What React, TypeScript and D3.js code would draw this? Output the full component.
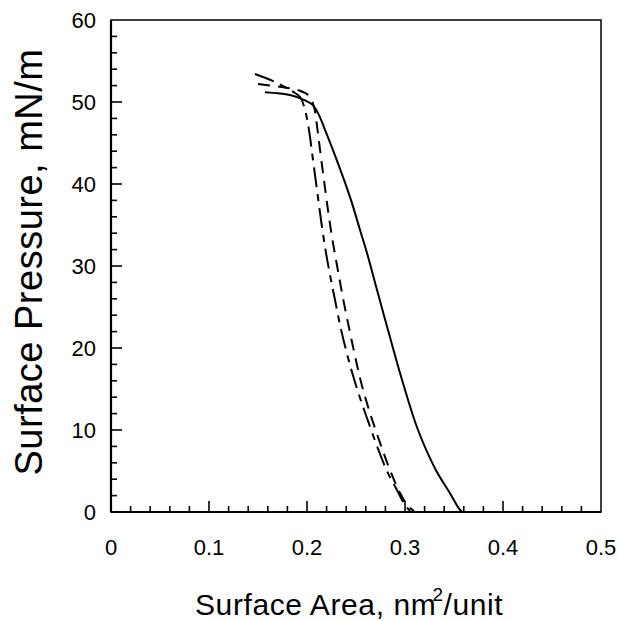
import React from "react";
import * as d3 from "d3";

const xTickLabels = ["0", "0.1", "0.2", "0.3", "0.4", "0.5"];
const yTickLabels = ["0", "10", "20", "30", "40", "50", "60"];

const solidX = [0.1571, 0.1827, 0.198, 0.2061, 0.2122, 0.2184, 0.2276, 0.2378, 0.245, 0.2541, 0.2612, 0.2714, 0.2847, 0.298, 0.3133, 0.3316, 0.3459, 0.3546, 0.3582];
const solidY = [51.2, 50.85, 50.2, 49.6, 48.4, 46.6, 43.8, 40.5, 38.0, 34.4, 31.6, 27.1, 21.3, 15.7, 10.0, 5.1, 2.3, 0.5, 0.0];

const dashDotX = [0.1469, 0.1673, 0.1847, 0.1929, 0.198, 0.202, 0.2061, 0.2102, 0.2143, 0.2189, 0.2235, 0.2286, 0.2337, 0.2398, 0.2459, 0.2531, 0.2612, 0.2714, 0.2816, 0.2918, 0.3, 0.3051];
const dashDotY = [53.41, 52.44, 51.34, 50.61, 49.02, 46.59, 42.93, 39.27, 35.61, 31.95, 28.9, 25.85, 22.8, 19.76, 17.07, 14.27, 11.46, 8.05, 5.0, 2.68, 0.85, 0.12];

const dashX = [0.15, 0.1724, 0.1929, 0.202, 0.2071, 0.2102, 0.2133, 0.2173, 0.2214, 0.226, 0.2311, 0.2367, 0.2429, 0.249, 0.2551, 0.2633, 0.2735, 0.2847, 0.2949, 0.3031, 0.3092];
const dashY = [52.2, 51.85, 51.37, 50.76, 49.41, 47.1, 44.15, 40.49, 36.83, 33.17, 29.76, 26.1, 22.44, 19.02, 15.85, 12.44, 8.78, 5.12, 2.32, 0.73, 0.12];

const W = 619;
const H = 621;
const left = 111;
const right = 601;
const top = 20;
const bottom = 512;
const font = "'Liberation Sans', Arial, Helvetica, sans-serif";

export default function App() {
  const x = d3.scaleLinear().domain([0, 0.5]).range([left, right]);
  const y = d3.scaleLinear().domain([0, 60]).range([bottom, top]);

  const line = d3
    .line<[number, number]>()
    .x((d) => x(d[0]))
    .y((d) => y(d[1]))
    .curve(d3.curveCatmullRom.alpha(0.5));

  const zip = (xs: number[], ys: number[]) => xs.map((v, i) => [v, ys[i]] as [number, number]);

  const xMinor = d3.range(0, 0.5001, 0.02).filter((v) => v > 0.001 && v < 0.499);
  const yMinor = d3.range(0, 60.001, 2).filter((v) => v > 0.1 && v < 59.9);

  return (
    <svg width={W} height={H} style={{ position: "absolute", left: 0, top: 0, background: "#fff" }}>
      <rect x={0} y={0} width={W} height={H} fill="#fff" />
      <rect x={left} y={top} width={right - left} height={bottom - top} fill="none" stroke="#000" strokeWidth={1.5} />
      <line x1={left} x2={left} y1={top} y2={bottom} stroke="#000" strokeWidth={2.2} />
      <line x1={left} x2={right} y1={bottom} y2={bottom} stroke="#000" strokeWidth={2.2} />
      {xMinor.map((v, i) => {
        const major = Math.abs(v * 10 - Math.round(v * 10)) < 1e-6;
        return (
          <line key={"xt" + i} x1={x(v)} x2={x(v)} y1={bottom} y2={bottom - (major ? 11 : 6)} stroke="#000" strokeWidth={1.6} />
        );
      })}
      {yMinor.map((v, i) => {
        const major = Math.abs(v / 10 - Math.round(v / 10)) < 1e-6;
        return (
          <line key={"yt" + i} x1={left} x2={left + (major ? 11 : 6)} y1={y(v)} y2={y(v)} stroke="#000" strokeWidth={1.6} />
        );
      })}
      {xTickLabels.map((t) => (
        <text key={"xl" + t} x={x(+t)} y={555} textAnchor="middle" fontFamily={font} fontSize={22} fill="#000">
          {t}
        </text>
      ))}
      {yTickLabels.map((t) => (
        <text key={"yl" + t} x={96} y={y(+t) + 8} textAnchor="end" fontFamily={font} fontSize={22} fill="#000">
          {t}
        </text>
      ))}
      <path d={line(zip(solidX, solidY)) || ""} fill="none" stroke="#000" strokeWidth={2} />
      <path d={line(zip(dashX, dashY)) || ""} fill="none" stroke="#000" strokeWidth={2} strokeDasharray="12,8" />
      <path d={line(zip(dashDotX, dashDotY)) || ""} fill="none" stroke="#000" strokeWidth={2} strokeDasharray="20,7,7,7" />
      <text x={195} y={615} fontFamily={font} fontSize={30} letterSpacing={0.6} fill="#000">
        Surface Area, nm
        <tspan dx={-4} dy={-14} fontSize={19}>2</tspan>
        <tspan dx={0} dy={14}>/unit</tspan>
      </text>
      <text
        transform={`translate(42, 262) rotate(-90)`}
        textAnchor="middle"
        fontFamily={font}
        fontSize={38}
        letterSpacing={0.5}
        fill="#000"
      >
        Surface Pressure, mN/m
      </text>
    </svg>
  );
}
